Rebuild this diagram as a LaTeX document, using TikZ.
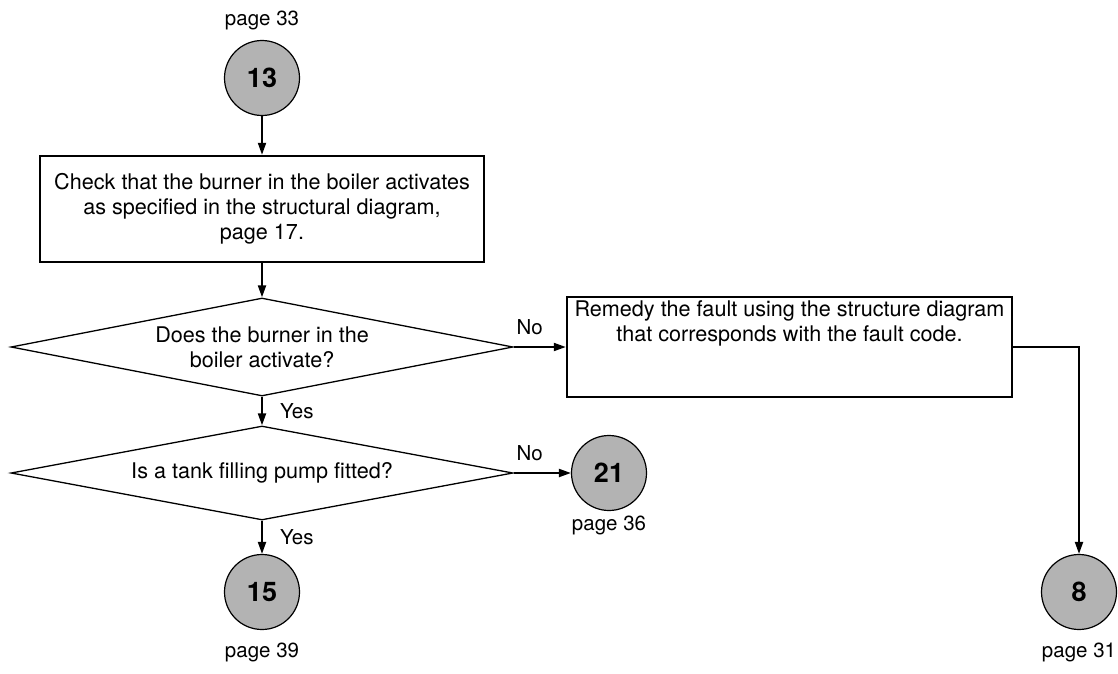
\documentclass[tikz,border=0pt]{standalone}
\usepackage{fontspec}
\setmainfont{TeX Gyre Heros}
\usetikzlibrary{shapes.geometric,arrows.meta}
\definecolor{refgray}{RGB}{179,179,179}
\begin{document}
\begin{tikzpicture}[x=1pt,y=-1pt,
  box/.style={draw, line width=2.4pt, rectangle, inner sep=0pt},
  dec/.style={draw, line width=1.3pt, diamond, aspect=5, inner sep=0pt, minimum width=502pt},
  ref/.style={draw, line width=1.2pt, circle, fill=refgray, minimum size=75pt, inner sep=0pt, font=\fontsize{27}{27}\selectfont\bfseries},
  pg/.style={font=\fontsize{20.5}{24}\selectfont, inner sep=0pt},
  conn/.style={line width=2pt, -{Triangle[length=12pt,width=8pt]}},
  lbl/.style={font=\fontsize{20.5}{24}\selectfont, inner sep=2pt},
  txt/.style={font=\fontsize{21.6}{25}\selectfont, align=center}
]
\useasboundingbox (0,0) rectangle (1118,674);

\node[ref] (c13) at (262,78) {13};
\node[pg] (p33) at (262,20) {page 33};

\node[box, txt, minimum width=444pt, minimum height=106pt] (r1) at (262,209)
  {Check that the burner in the boiler activates\\as specified in the structural diagram,\\page 17.};

\node[dec, minimum height=98pt, txt] (d1) at (262,347) {Does the burner in the\\boiler activate?};

\node[box, minimum width=445pt, minimum height=100pt] (r2) at (789.5,347)
  {\parbox[c][92pt][t]{445pt}{\centering\fontsize{21.6}{25}\selectfont Remedy the fault using the structure diagram\\that corresponds with the fault code.}};

\node[dec, minimum height=94pt, txt] (d2) at (262,473) {Is a tank filling pump fitted?};

\node[ref] (c21) at (609,473) {21};
\node[pg] (p36) at (609,525) {page 36};

\node[ref] (c15) at (262,592) {15};
\node[pg] (p39) at (262,652) {page 39};

\node[ref] (c8) at (1079,592) {8};
\node[pg] (p31) at (1079,652) {page 31};

\draw[conn] (c13.south) -- (r1.north);
\draw[conn] (r1.south) -- (d1.north);
\draw[conn] (d1.east) -- node[lbl, pos=0, anchor=south west, yshift=9pt] (no1) {No} (r2.west);
\draw[conn] (d1.south) -- node[lbl, anchor=west, xshift=15pt] (yes1) {Yes} (d2.north);
\draw[conn] (d2.east) -- node[lbl, pos=0, anchor=south west, yshift=9pt] (no2) {No} (c21.west);
\draw[conn] (d2.south) -- node[lbl, anchor=west, xshift=15pt] (yes2) {Yes} (c15.north);
\draw[conn] (r2.east) -| (c8.north);
\end{tikzpicture}
\end{document}
